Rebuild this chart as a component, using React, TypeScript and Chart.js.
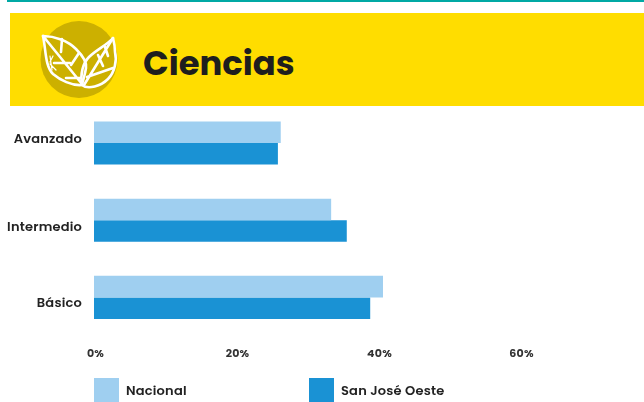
import React, { useEffect, useRef } from "react";
import { Chart, registerables } from "chart.js";

Chart.register(...registerables);

const title = "Ciencias";
const categories = ["Avanzado", "Intermedio", "Básico"];
const nacional = [26.3, 33.4, 40.7];
const sanJoseOeste = [25.9, 35.6, 38.9];
const seriesNames = ["Nacional", "San José Oeste"];
const xMax = 77.46;
const FONT = "Poppins, Inter, 'Noto Sans', sans-serif";

const lineShift = [
  { lines: (t: string) => [t, ""], lh: 7 },
  { lines: (t: string) => ["", t], lh: 15 },
  { lines: (t: string) => ["", t], lh: 13 },
];

const legendPlugin = {
  id: "bottomLegend",
  beforeDraw(chart: any) {
    chart.ctx.letterSpacing = "0.2px";
  },
  afterDraw(chart: any) {
    const { ctx } = chart;
    const xs = [94, 309];
    chart.data.datasets.forEach((ds: any, i: number) => {
      ctx.save();
      ctx.fillStyle = ds.backgroundColor;
      ctx.fillRect(xs[i], 378, 25, 24);
      ctx.fillStyle = "#222222";
      ctx.font = `600 13px ${FONT}`;
      ctx.textBaseline = "middle";
      ctx.textAlign = "left";
      ctx.fillText(ds.label, xs[i] + 32, 392);
      ctx.restore();
    });
  },
};

export default function App() {
  const ref = useRef<HTMLCanvasElement>(null);
  useEffect(() => {
    document.body.style.margin = "0";
    const chart = new Chart(ref.current!, {
      type: "bar",
      data: {
        labels: categories,
        datasets: [
          { label: seriesNames[0], data: nacional, backgroundColor: "#9FCFF0", barPercentage: 1, categoryPercentage: 0.558 },
          { label: seriesNames[1], data: sanJoseOeste, backgroundColor: "#1A92D4", barPercentage: 1, categoryPercentage: 0.558 },
        ],
      },
      options: {
        indexAxis: "y",
        animation: false,
        responsive: false,
        layout: { padding: { top: 104.4, left: 0, right: 0, bottom: 0 } },
        plugins: { legend: { display: false }, tooltip: { enabled: false } },
        scales: {
          x: {
            min: 0,
            max: xMax,
            grid: { display: false },
            border: { display: false },
            afterFit: (s: any) => { s.height = 66; },
            ticks: {
              stepSize: 20,
              includeBounds: false,
              maxRotation: 0,
              labelOffset: 1.5,
              padding: 4,
              color: "#333333",
              font: { family: FONT, size: 11, weight: "700" },
              callback: (v: any) => `${v}%`,
            },
          },
          y: {
            grid: { display: false },
            border: { display: false },
            afterFit: (s: any) => { s.width = 94; },
            ticks: {
              padding: 4,
              color: "#222222",
              font: (c: any) => ({ family: FONT, size: 13, weight: "600", lineHeight: `${lineShift[c.index]?.lh ?? 12}px` }),
              callback: (_v: any, i: number) => lineShift[i].lines(categories[i]),
            },
          },
        },
      },
      plugins: [legendPlugin],
    } as any);
    return () => chart.destroy();
  }, []);

  return (
    <div style={{ position: "absolute", left: 0, top: 0, width: 644, height: 402, overflow: "hidden", background: "#fff" }}>
      <div style={{ position: "absolute", left: 7, top: 0, width: 637, height: 2, background: "#00A9A4" }} />
      <div style={{ position: "absolute", left: 10, top: 13, width: 634, height: 93, background: "#FFDD00" }} />
      <svg width={644} height={110} style={{ position: "absolute", left: 0, top: 0 }}>
        <circle cx={79} cy={59.5} r={38.5} fill="#CCB000" />
        <g fill="none" stroke="#fff" strokeWidth={2.6} strokeLinejoin="round" strokeLinecap="round">
          <path d="M43 36 C55 36 68 41 76 49 C83 56 87 62 86 68 C85 75 83 80 82 85 C72 86 60 80 53 74 C45 66 46 50 43 36 Z" />
          <path d="M43 36 L82 84 M61 52 L62 39 M71 65 L79 53 M54 63 L70 63 M66 78 L81 78" />
          <path d="M113 38 C107 45 96 50 89 57 C83 63 80 74 82 85 C88 90 101 86 108 79 C115 72 117 60 115 52 C115 47 114 42 113 38 Z" />
          <path d="M113 38 L84 85 M98 55 L103 66 M105 47 L108 56 M87 77 L113 68" />
        </g>
        <g fill="none" stroke="#fff" strokeWidth={1.2} strokeLinecap="round">
          <path d="M50 56 L52 70 M53 56 L50 62 M50 64 L56 70" />
        </g>
        <text x={143} y={75} fontFamily={FONT} fontWeight={700} fontSize={33.8} fill="#1E1E1E">{title}</text>
      </svg>
      <canvas ref={ref} width={644} height={402} style={{ position: "absolute", left: 0, top: 0, display: "block" }} />
    </div>
  );
}
